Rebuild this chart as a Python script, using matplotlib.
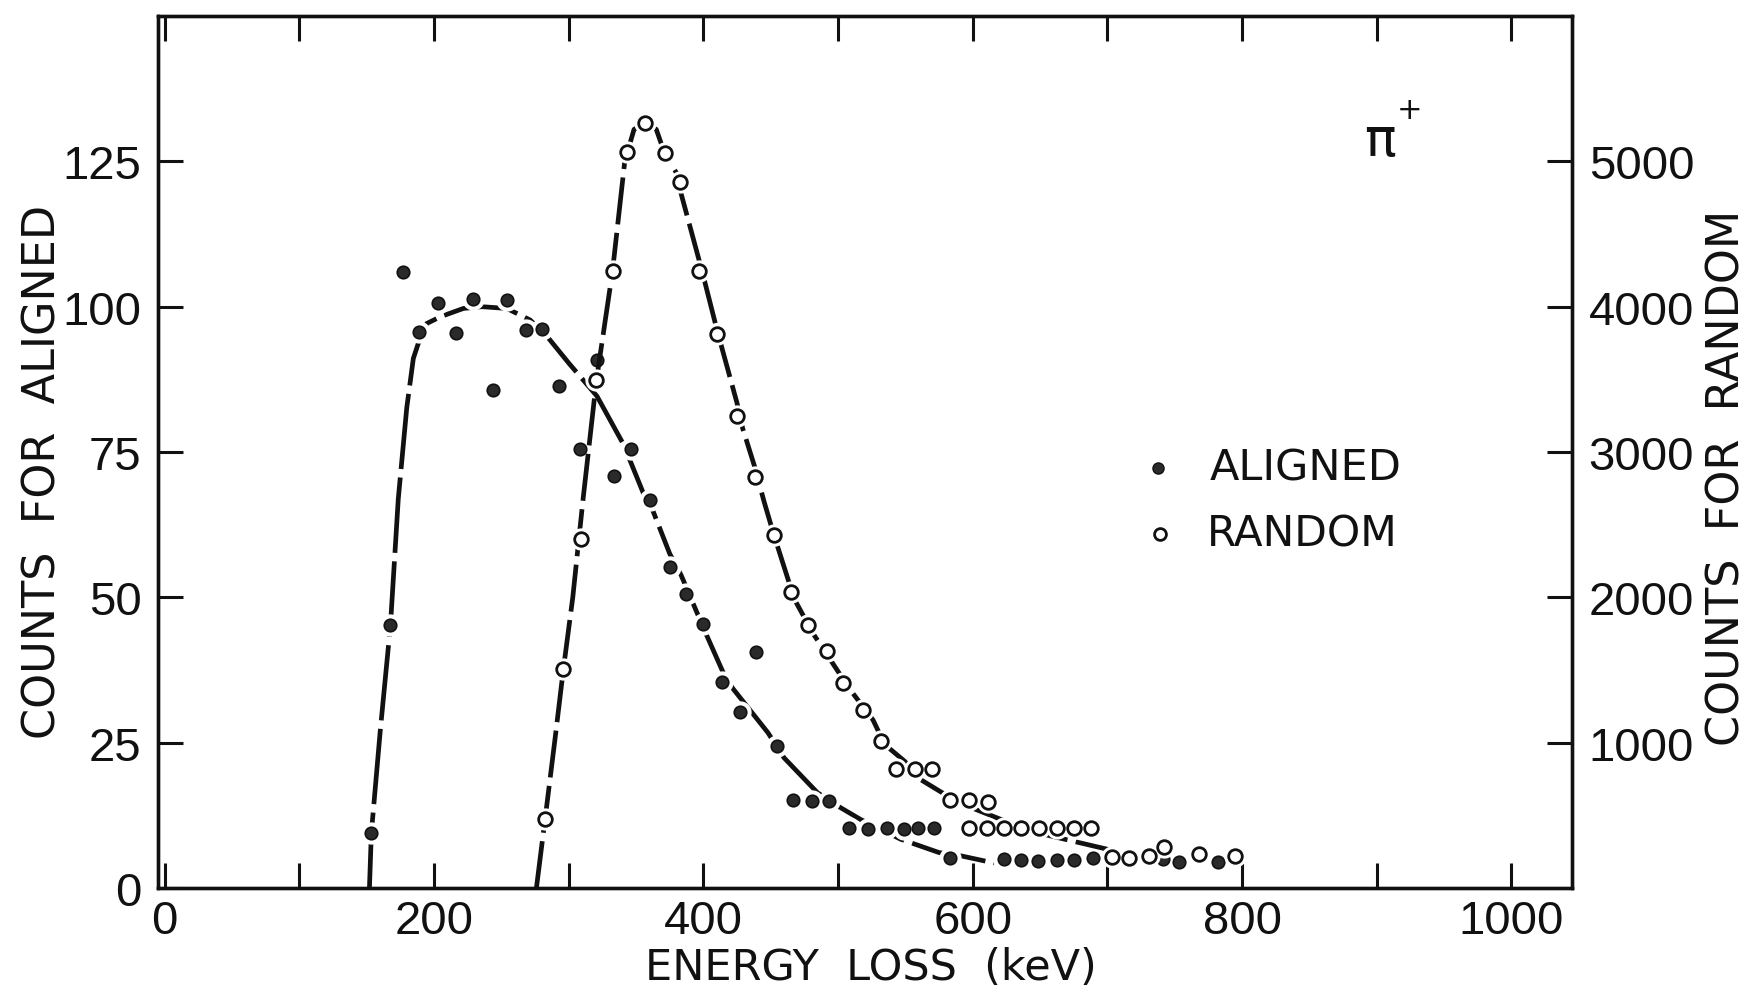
import matplotlib
matplotlib.use("Agg")
import matplotlib.pyplot as plt

plt.rcParams['font.family'] = ['DejaVu Sans']

# ---------------- data ----------------
aligned_keV = [153.4, 167.6, 176.7, 188.9, 203, 216, 229, 243.6, 254, 268, 280.5,
               292.4, 308.7, 321, 333.5, 346.5, 360.3, 375, 386.9, 400, 414, 427.3,
               439.3, 454.9, 466.8, 480.8, 493, 508, 522.4, 536.6, 549, 559, 571,
               583, 623, 635.7, 648.6, 662.5, 675.3, 689, 741, 753.4, 782]
aligned_counts = [9.4, 45.2, 105.9, 95.6, 100.6, 95.5, 101.4, 85.7, 101.1, 96, 96.1,
                  86.4, 75.6, 90.9, 70.8, 75.6, 66.7, 55.3, 50.6, 45.4, 35.5, 30.3,
                  40.6, 24.4, 15.1, 14.9, 14.9, 10.4, 10.1, 10.4, 10.2, 10.3, 10.4,
                  5.1, 5.0, 4.85, 4.7, 4.85, 4.85, 5.2, 5.0, 4.5, 4.5]

random_keV = [282.5, 296, 309, 320.6, 332.5, 343.6, 356.9, 371.2, 382.8, 397, 410,
              425, 438.3, 452.2, 464.8, 478, 492, 504, 518.6, 532, 542.8, 557, 569.4,
              583, 597, 611, 597, 610.4, 623, 635.7, 649, 662.5, 675, 687.7,
              703.4, 716, 730.6, 741.8, 768, 795]
random_counts = [477, 1504, 2401, 3497, 4244, 5066, 5263, 5057, 4860, 4244, 3813,
                 3247, 2829, 2432, 2036, 1808, 1632, 1413, 1226, 1009, 822, 822, 822,
                 603, 603, 591, 410, 410, 410, 410, 410, 410, 410, 410,
                 214, 210, 221, 283, 233, 221]

# hand-drawn guide curves (vertices)
aligned_fit_keV = [152, 153.4, 160, 167.6, 173.4, 179.7, 184.6, 188, 194.5, 205, 221.8,
                   235.5, 254, 271.4, 284.9, 300, 321, 340.7, 355.6, 362, 375, 383.5,
                   395, 401.8, 415, 421.6, 448, 459.9, 484.7, 500.6, 516.7, 546.5,
                   575, 592, 616]
aligned_fit_counts = [0, 9.4, 27, 45.2, 66.9, 82.6, 91.1, 93.5, 97.1, 98.3, 99.7,
                      100, 99.7, 97.7, 94.6, 90.3, 84.6, 76.3, 67.8, 65.2, 57.5, 53.8,
                      47.5, 43.8, 36.9, 34.4, 26.7, 22.4, 16.4, 14.0, 11.8, 8.4,
                      6.1, 5.5, 4.3]

random_fit_keV = [276, 282.5, 290, 296, 303, 310.5, 320.6, 332.5, 341.6, 348.5, 356.9,
                  365, 371.2, 380, 383.5, 396.8, 401, 409, 413.4, 425, 429, 438.3,
                  444.9, 452, 463, 468, 481.4, 501, 511, 526, 534.6, 549.5, 561,
                  577.3, 596, 621, 648, 705]
random_fit_counts = [0, 480, 1040, 1504, 2000, 2664, 3496, 4244, 5000, 5220, 5264,
                     5220, 5056, 4920, 4776, 4320, 4172, 3880, 3728, 3336, 3168, 2892,
                     2664, 2440, 2120, 1980, 1752, 1476, 1340, 1156, 988, 872, 748,
                     656, 564, 472, 380, 256]

x_major = [0, 200, 400, 600, 800, 1000]
x_minor = [100, 300, 500, 700, 900]
left_ticks = [0, 25, 50, 75, 100, 125]
right_ticks = [1000, 2000, 3000, 4000, 5000]

# ---------------- figure ----------------
fig = plt.figure(figsize=(17.54, 9.95), dpi=100)
ax = fig.add_axes([0.0901, 0.1065, 0.8061, 0.8764])
ax2 = ax.twinx()

ax.set_xlim(-5, 1045)
ax.set_ylim(0, 150)
ax2.set_ylim(0, 6000)

num_font = ['Liberation Sans Narrow', 'Liberation Sans', 'DejaVu Sans']
INK = '#111111'

# aligned curve + points (left axis)
ax.plot(aligned_fit_keV, aligned_fit_counts, color=INK, lw=3.4,
        linestyle=(0, (16, 1.8)), dash_capstyle='butt', zorder=2)
ax.plot(aligned_keV, aligned_counts, linestyle='none', marker='o', markersize=15,
        markerfacecolor='white', markeredgecolor='white', zorder=3)
ax.plot(aligned_keV, aligned_counts, linestyle='none', marker='o', markersize=9,
        markerfacecolor='#2a2a2a', markeredgecolor=INK, markeredgewidth=1.2, zorder=4)

# random curve + points (right axis)
ax2.plot(random_fit_keV, random_fit_counts, color=INK, lw=3.4,
         linestyle=(0, (10, 1.8)), dash_capstyle='butt', zorder=2)
ax2.plot(random_keV, random_counts, linestyle='none', marker='o', markersize=15,
         markerfacecolor='white', markeredgecolor='white', zorder=3)
ax2.plot(random_keV, random_counts, linestyle='none', marker='o', markersize=9.8,
         markerfacecolor='white', markeredgecolor=INK, markeredgewidth=2.0, zorder=4)

# ticks
ax.set_xticks(x_major, labels=[str(v) for v in x_major], fontsize=34, fontfamily=num_font)
ax.set_xticks(x_minor, minor=True)
ax.set_yticks(left_ticks, labels=[str(v) for v in left_ticks], fontsize=34, fontfamily=num_font)
ax2.set_yticks(right_ticks, labels=[str(v) for v in right_ticks], fontsize=34, fontfamily=num_font)

ax.tick_params(axis='x', which='both', direction='in', length=18, width=2.2,
               top=True, bottom=True, pad=8, colors=INK)
ax.tick_params(axis='y', which='both', direction='in', length=18, width=2.2,
               left=True, right=False, pad=12, colors=INK)
ax2.tick_params(axis='y', which='both', direction='in', length=18, width=2.2,
                left=False, right=True, pad=12, colors=INK)

for a in (ax, ax2):
    for s in a.spines.values():
        s.set_linewidth(2.4)
        s.set_color(INK)

# axis labels
ax.set_xlabel('ENERGY  LOSS  (keV)', fontsize=31, color=INK)
ax.xaxis.set_label_coords(0.504, -0.066)
ax.xaxis.label.set_verticalalignment('top')

ax.set_ylabel('COUNTS  FOR  ALIGNED', fontsize=32, color=INK)
ax.yaxis.set_label_coords(-0.0813, 0.478)
ax.yaxis.label.set_verticalalignment('center')

ax2.set_ylabel('COUNTS  FOR  RANDOM', fontsize=32, color=INK, rotation=90)
ax2.yaxis.set_label_coords(1.1096, 0.471)
ax2.yaxis.label.set_verticalalignment('center')

# legend (drawn manually in axes coordinates)
ax2.plot([0.707], [0.4817], transform=ax2.transAxes, marker='o', markersize=8,
         markerfacecolor='#2a2a2a', markeredgecolor=INK, linestyle='none', clip_on=False)
ax2.text(0.744, 0.4817, 'ALIGNED', transform=ax2.transAxes, fontsize=31,
         va='center', ha='left', color=INK)
ax2.plot([0.709], [0.406], transform=ax2.transAxes, marker='o', markersize=8.5,
         markerfacecolor='white', markeredgecolor=INK, markeredgewidth=2.0,
         linestyle='none', clip_on=False)
ax2.text(0.742, 0.406, 'RANDOM', transform=ax2.transAxes, fontsize=30.5,
         va='center', ha='left', color=INK)

# particle label
ax2.text(0.864, 0.858, 'π', transform=ax2.transAxes, fontsize=38,
         va='center', ha='center', color=INK)
ax2.text(0.885, 0.893, '+', transform=ax2.transAxes, fontsize=22,
         va='center', ha='center', color=INK)

fig.savefig('out.png', dpi=100)
